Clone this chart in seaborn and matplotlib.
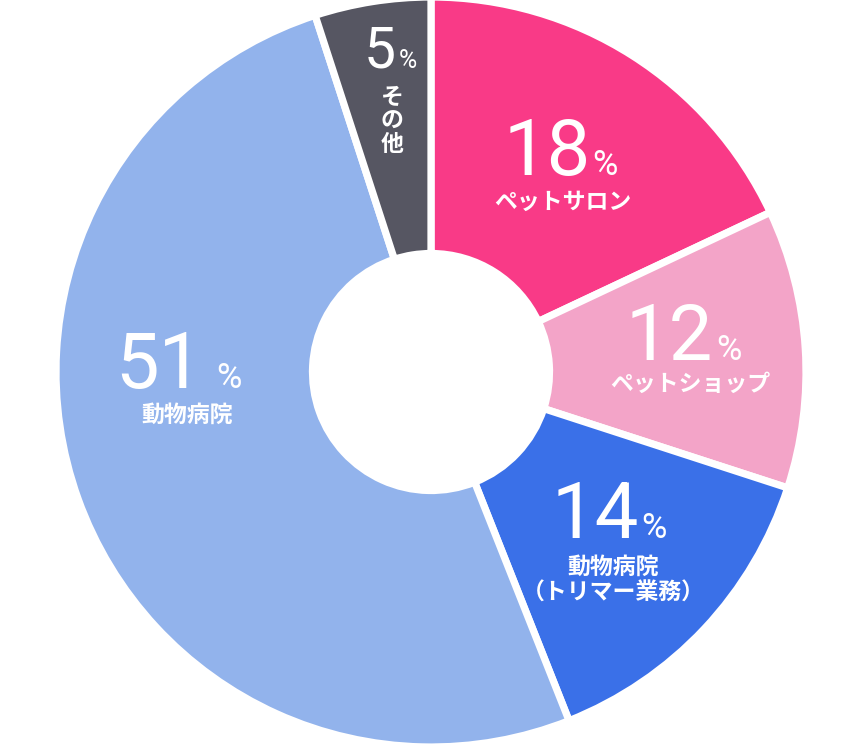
import matplotlib
matplotlib.use("Agg")
import matplotlib.pyplot as plt
import seaborn as sns

# ---- data ----
categories = ["ペットサロン", "ペットショップ", "動物病院\n（トリマー業務）", "動物病院", "その他"]
values = [18, 12, 14, 51, 5]
colors = ["#F93A87", "#F3A4C8", "#3A70E8", "#92B3EC", "#565662"]

sns.set_theme(style="white")
plt.rcParams["font.family"] = ["Noto Sans CJK JP", "DejaVu Sans"]
palette = sns.color_palette(colors)

W, H = 863, 744
fig = plt.figure(figsize=(W / 100, H / 100), dpi=100)
ax = fig.add_axes([0, 0, 1, 1])

cx, cy = 431, 372
R = 375
inner = 118.5
ax.pie(values, colors=palette, startangle=90, counterclock=False,
       center=(cx, cy), radius=R, frame=True,
       wedgeprops=dict(width=R - inner, edgecolor="white", linewidth=5.2))
ax.set_xlim(0, W)
ax.set_ylim(0, H)
ax.set_axis_off()

# layout: (digits right x, baseline y, % left x, label center x, label center y, digit size, pct size)
layout = [
    (591, 175, 592, 563, 202, 56, 25),
    (713, 360, 716, 690, 384, 56, 25),
    (639, 538, 641, 613, 580, 56, 25),
    (202, 388, 216, 187, 415, 56, 25),
    (396, 68, 399, 392, 121, 41, 18),
]

num_font = dict(family=["Roboto", "DejaVu Sans"], weight="normal", color="white")
for v, lab, (rx, by, px, lx, ly, fs, ps) in zip(values, categories, layout):
    ax.text(rx, H - by, str(v), ha="right", va="baseline", fontsize=fs, **num_font)
    ax.text(px, H - by, "%", ha="left", va="baseline", fontsize=ps, **num_font)
    if lab == "その他":
        txt = "\n".join(list(lab))
        ax.text(lx, H - ly, txt, ha="center", va="center", fontsize=16.5,
                color="white", fontweight="bold", linespacing=1.05)
    else:
        ax.text(lx, H - ly, lab, ha="center", va="center", fontsize=16.5,
                color="white", fontweight="bold", linespacing=1.15)

fig.savefig("out.png", dpi=100, facecolor="white")
